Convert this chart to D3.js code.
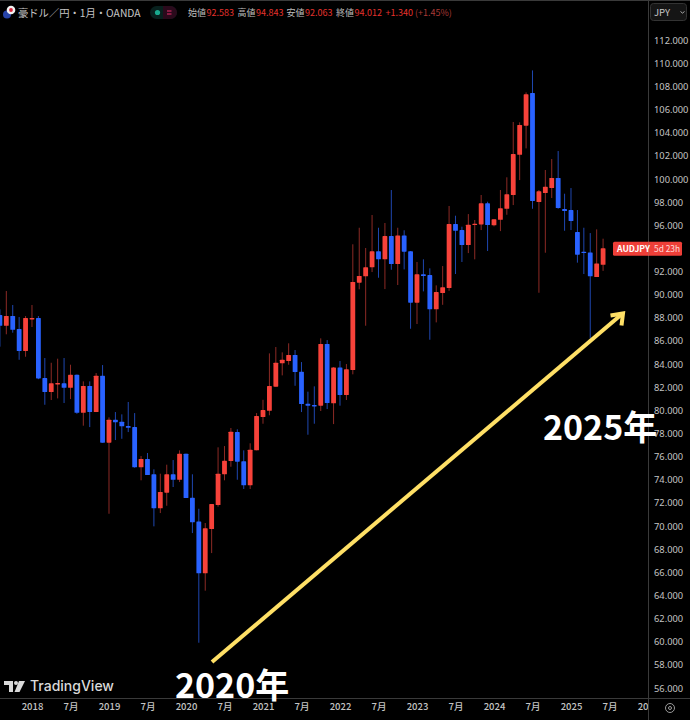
<!DOCTYPE html>
<html lang="ja">
<head>
<meta charset="utf-8">
<script src="https://cdnjs.cloudflare.com/ajax/libs/d3/7.8.5/d3.min.js"></script>
<style>
html,body{margin:0;padding:0;background:#000;}
svg{display:block;}
text{font-family:"Noto Sans CJK JP","Noto Sans",sans-serif;}
</style>
</head>
<body>
<svg id="chart" width="690" height="720"></svg>
<script>
const months = ["2017-08","2017-09","2017-10","2017-11","2017-12",
"2018-01","2018-02","2018-03","2018-04","2018-05","2018-06","2018-07","2018-08","2018-09","2018-10","2018-11","2018-12",
"2019-01","2019-02","2019-03","2019-04","2019-05","2019-06","2019-07","2019-08","2019-09","2019-10","2019-11","2019-12",
"2020-01","2020-02","2020-03","2020-04","2020-05","2020-06","2020-07","2020-08","2020-09","2020-10","2020-11","2020-12",
"2021-01","2021-02","2021-03","2021-04","2021-05","2021-06","2021-07","2021-08","2021-09","2021-10","2021-11","2021-12",
"2022-01","2022-02","2022-03","2022-04","2022-05","2022-06","2022-07","2022-08","2022-09","2022-10","2022-11","2022-12",
"2023-01","2023-02","2023-03","2023-04","2023-05","2023-06","2023-07","2023-08","2023-09","2023-10","2023-11","2023-12",
"2024-01","2024-02","2024-03","2024-04","2024-05","2024-06","2024-07","2024-08","2024-09","2024-10","2024-11","2024-12",
"2025-01","2025-02","2025-03","2025-04","2025-05","2025-06"];
const futureMonths = ["2025-07","2025-08","2025-09","2025-10","2025-11","2025-12","2026-01"];

const opens = [88.24,87.32,88.16,87.03,85.13,
87.90,87.99,82.80,81.59,82.28,82.34,81.96,83.08,79.80,82.11,79.86,83.00,
77.21,79.20,79.02,78.65,78.56,75.08,75.80,74.48,71.54,72.89,74.48,74.01,
76.26,72.45,70.41,65.92,69.75,71.82,74.48,75.63,78.13,75.60,73.53,76.55,
79.43,79.97,82.05,84.07,84.27,84.79,83.34,80.58,80.47,80.41,85.74,80.61,
83.72,81.33,83.49,91.04,91.59,92.37,93.75,93.06,95.07,92.65,95.13,93.75,
89.31,91.76,91.70,88.74,90.15,90.58,96.11,95.59,94.29,96.05,96.08,97.90,
96.00,96.48,97.43,98.62,102.10,104.61,107.43,98.01,98.79,99.22,100.09,97.41,
97.32,95.42,93.72,93.66,91.53,92.583];
const highs = [88.74,90.32,89.11,88.07,88.16,
89.11,88.16,84.53,84.12,84.47,84.53,83.95,83.10,82.51,82.51,83.23,83.92,
79.40,79.86,79.66,80.73,79.77,76.06,76.32,74.91,74.53,75.31,75.71,76.55,
76.26,74.48,71.50,70.27,71.91,76.81,76.92,78.48,78.37,76.55,77.16,79.77,
80.92,84.93,85.48,85.02,85.80,85.22,84.18,81.62,82.08,86.23,86.08,83.75,
84.27,84.01,94.36,95.79,94.04,96.89,95.79,96.20,99.05,95.79,95.57,93.78,
92.83,93.06,92.28,90.81,92.48,97.67,96.83,95.88,96.97,96.46,98.62,98.04,
96.52,99.05,100.15,104.93,104.90,107.49,109.39,99.05,100.78,101.73,102.42,98.73,
99.22,97.32,95.79,95.33,95.65,94.843];
const lows = [85.51,86.58,86.72,84.38,84.64,
87.21,82.70,80.49,80.90,81.04,80.64,80.98,79.71,78.68,78.56,79.86,77.21,
71.07,77.44,77.55,78.13,75.05,73.96,74.42,69.98,71.13,71.76,73.38,73.81,
72.43,69.40,59.92,64.42,67.67,71.68,73.96,75.13,74.01,73.21,73.21,76.55,
78.85,79.58,82.05,83.03,83.95,82.13,79.86,77.90,78.85,79.95,80.12,78.82,
80.41,80.90,83.12,90.47,87.32,91.96,91.47,90.49,92.16,90.84,92.19,87.06,
87.47,90.29,86.11,87.61,89.13,90.34,91.79,92.83,93.60,93.06,95.59,93.78,
95.91,95.50,96.91,97.75,99.91,102.65,97.43,90.17,93.63,98.36,97.43,95.53,
95.59,92.77,91.79,86.23,91.53,92.063];
const closes = [87.32,88.16,86.97,85.13,87.99,
87.99,82.77,81.59,82.34,82.37,81.96,83.08,79.80,82.11,79.86,83.00,77.21,
79.20,78.97,78.63,78.50,75.08,75.80,74.42,71.54,72.95,74.48,74.01,76.26,
72.43,70.33,65.92,69.81,71.91,74.53,75.65,78.16,75.57,73.53,76.60,79.52,
80.03,82.11,84.12,84.38,84.79,83.32,80.55,80.41,80.41,85.74,80.64,83.72,
81.33,83.55,91.10,91.62,92.37,93.75,93.06,95.07,92.65,95.13,93.72,89.31,
91.76,91.62,88.74,90.23,90.64,96.11,95.53,94.29,96.05,96.14,97.90,96.02,
96.52,97.47,98.68,102.16,104.67,107.32,98.10,98.94,99.33,100.09,97.49,97.23,
96.37,93.46,93.63,91.59,92.71,94.012];

const priceTicks = [56,58,60,62,64,66,68,70,72,74,76,78,80,82,84,86,88,90,92,94,96,98,100,102,104,106,108,110,112];
const timeTicks = ["2018-01","2018-07","2019-01","2019-07","2020-01","2020-07","2021-01","2021-07","2022-01","2022-07","2023-01","2023-07","2024-01","2024-07","2025-01","2025-07","2026-01"];
const headerStats = [["始値","92.583"],["高値","94.843"],["安値","92.063"],["終値","94.012"]];

const UP = "#f7423a", DOWN = "#2962ff", UPW = "#8c2a25", DOWNW = "#1f47b0";
const AXIS_X = 648, AXIS_Y = 698;

const svg = d3.select("#chart");
svg.append("rect").attr("width",690).attr("height",720).attr("fill","#000");

const defs = svg.append("defs");
defs.append("clipPath").attr("id","timeClip").append("rect").attr("x",0).attr("y",698).attr("width",AXIS_X).attr("height",22);
defs.append("clipPath").attr("id","plotClip").append("rect").attr("x",0).attr("y",0).attr("width",AXIS_X).attr("height",AXIS_Y);

const x = d3.scalePoint().domain(months.concat(futureMonths)).range([-0.1, 648]);
const y = d3.scaleLinear().domain([56,112]).range([688.1,40.2]);

// frame lines
svg.append("line").attr("x1",0).attr("x2",690).attr("y1",0.5).attr("y2",0.5).attr("stroke","#3a3a3a");
svg.append("line").attr("x1",0).attr("x2",690).attr("y1",AXIS_Y+.5).attr("y2",AXIS_Y+.5).attr("stroke","#3a3a3a");
svg.append("line").attr("x1",AXIS_X+.5).attr("x2",AXIS_X+.5).attr("y1",0).attr("y2",720).attr("stroke","#3a3a3a");

// candles
const candles = months.map((m,i)=>({m,o:opens[i],h:highs[i],l:lows[i],c:closes[i]}));
const g = svg.append("g").attr("clip-path","url(#plotClip)");
const cg = g.selectAll("g.c").data(candles).join("g").attr("class","c");
cg.append("line")
  .attr("x1",d=>x(d.m)).attr("x2",d=>x(d.m))
  .attr("y1",d=>y(d.h)).attr("y2",d=>y(d.l))
  .attr("stroke",d=>d.c>=d.o?UPW:DOWNW).attr("stroke-width",1);
cg.append("rect")
  .attr("x",d=>x(d.m)-2.4).attr("width",4.8)
  .attr("y",d=>y(Math.max(d.o,d.c)))
  .attr("height",d=>Math.max(1.4,Math.abs(y(d.o)-y(d.c))))
  .attr("rx",0.6)
  .attr("fill",d=>d.c>=d.o?UP:DOWN);

// price axis
const yAxis = d3.axisRight(y).tickValues(priceTicks).tickFormat(d3.format(".3f")).tickSize(0).tickPadding(0);
const yg = svg.append("g").attr("transform","translate(654,0)").call(yAxis);
yg.select(".domain").remove();
yg.selectAll("text").attr("fill","#c4c4c4").style("font-size","9.3px").style("font-family","'Noto Sans',sans-serif");

// time axis
const xAxis = d3.axisBottom(x).tickValues(timeTicks)
  .tickFormat(d=>d.endsWith("-01")?d.slice(0,4):"7月").tickSize(0).tickPadding(0);
const xClip = svg.append("g").attr("clip-path","url(#timeClip)");
const xg = xClip.append("g").attr("transform","translate(0,703)").call(xAxis);
xg.select(".domain").remove();
xg.selectAll("text").attr("fill","#c4c4c4").style("font-size","9.5px").attr("font-weight",500);

// current price label: hides the 94.000 tick as in the platform
const last = closes[closes.length-1];
const lab = svg.append("g").attr("transform",`translate(0,${y(last)})`);
lab.append("rect").attr("x",613).attr("y",-6.5).attr("width",69).attr("height",14).attr("rx",1.5).attr("fill","#ee3f38");
lab.append("line").attr("x1",AXIS_X+.5).attr("x2",AXIS_X+.5).attr("y1",-6.5).attr("y2",7.5).attr("stroke","#c9534e");
lab.append("text").attr("x",617).attr("y",3.8).attr("fill","#fff").attr("font-size",8.6).attr("font-weight",700).text("AUDJPY");
lab.append("text").attr("x",654).attr("y",3.8).attr("fill","#ffdcda").attr("font-size",8.4).text("5d 23h");
yg.selectAll(".tick").filter(d=>d===94).select("text").attr("opacity",0);

// JPY box
svg.append("rect").attr("x",650.5).attr("y",3.5).attr("width",36).attr("height",17).attr("rx",3).attr("fill","#151515").attr("stroke","#333");
svg.append("text").attr("x",654).attr("y",15.5).attr("fill","#c8c8c8").attr("font-size",9.5).text("JPY");
svg.append("path").attr("d","M680.5 11.5l2 1.6 2-1.6").attr("fill","none").attr("stroke","#aaa");

// header
const fl = svg.append("g");
fl.append("circle").attr("cx",7).attr("cy",14.5).attr("r",4).attr("fill","#2743a8");
fl.append("circle").attr("cx",11).attr("cy",10).attr("r",4.3).attr("fill","#f2f2f2");
fl.append("circle").attr("cx",11).attr("cy",10).attr("r",1.9).attr("fill","#d9233a");
svg.append("text").attr("x",18).attr("y",17).attr("fill","#c6c6c6").attr("font-size",10.3).text("豪ドル／円・1月・OANDA");
svg.append("rect").attr("x",150).attr("y",6).attr("width",27).attr("height",13).attr("rx",6.5).attr("fill","#08211e");
svg.append("path").attr("d","M163 6h7.5a6.5 6.5 0 0 1 0 13H163z").attr("fill","#2b0a1c");
svg.append("circle").attr("cx",157.5).attr("cy",12.5).attr("r",2.6).attr("fill","#19a98e");
svg.append("path").attr("d","M167 11h4.5M167 14h4.5").attr("stroke","#ec2f6c").attr("stroke-width",1.2);

const statX = [188,237.5,286.5,336];
headerStats.forEach(([k,v],i)=>{
  svg.append("text").attr("x",statX[i]).attr("y",16).attr("fill","#bdbdbd").attr("font-size",9).text(k);
  svg.append("text").attr("x",statX[i]+18.5).attr("y",16).attr("fill","#e5322d").attr("font-size",9).text(v);
});
svg.append("text").attr("x",385.5).attr("y",16).attr("fill","#e5322d").attr("font-size",9).text("+1.340");
svg.append("text").attr("x",415).attr("y",16).attr("fill","#a83a36").attr("font-size",9).text("(+1.45%)");

// TradingView logo
const tv = svg.append("g").attr("transform","translate(4,681)").attr("fill","#d9d9d9");
tv.append("path").attr("d","M0 0H9V11H5V4H0z");
tv.append("circle").attr("cx",12).attr("cy",2).attr("r",2);
tv.append("path").attr("d","M15 0H21L15.5 11H10.5z");
svg.append("text").attr("x",30).attr("y",691).attr("fill","#d9d9d9").attr("font-size",14).attr("font-weight",500)
  .style("font-family","Inter,'Noto Sans',sans-serif").text("TradingView");

// settings icon
svg.append("circle").attr("cx",670).attr("cy",708).attr("r",4.5).attr("fill","none").attr("stroke","#9a9a9a");
svg.append("circle").attr("cx",670).attr("cy",708).attr("r",1.5).attr("fill","none").attr("stroke","#9a9a9a");

// annotation
const YEL = "#ffe066";
svg.append("line").attr("x1",212).attr("y1",662).attr("x2",622).attr("y2",314)
  .attr("stroke",YEL).attr("stroke-width",4);
svg.append("path").attr("d","M610.5 315.5L623 313.5L621.5 325.5").attr("fill","none")
  .attr("stroke",YEL).attr("stroke-width",4).attr("stroke-linejoin","miter");
const bigText = (tx,ty,s)=>svg.append("text").attr("x",tx).attr("y",ty).attr("fill","#fff")
  .attr("font-size",34).attr("font-weight",700).style("font-family","'Noto Sans CJK JP',sans-serif").text(s);
bigText(175,698,"2020年");
bigText(543,440,"2025年");
</script>
</body>
</html>
